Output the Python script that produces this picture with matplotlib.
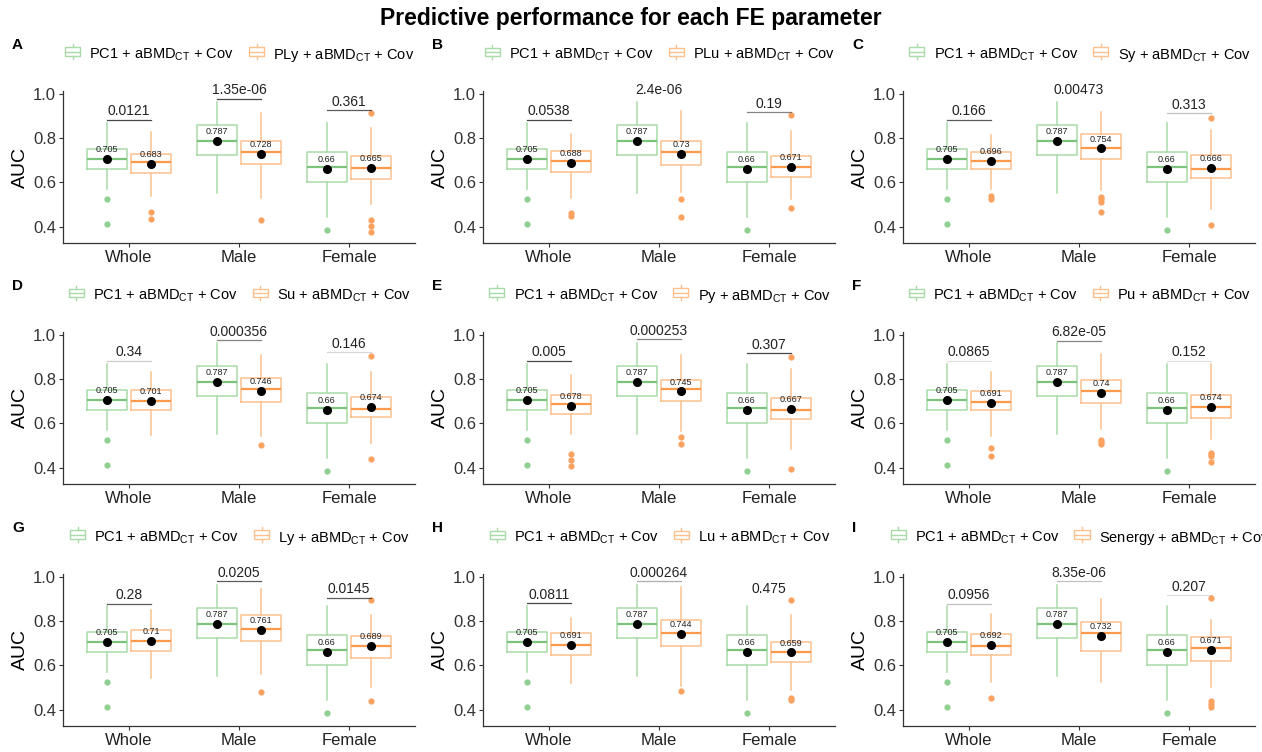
import matplotlib
matplotlib.use("Agg")
import matplotlib.pyplot as plt
from matplotlib.patches import Rectangle
from matplotlib.lines import Line2D
from matplotlib.legend_handler import HandlerBase

plt.rcParams['font.family'] = ['Liberation Sans', 'DejaVu Sans']
plt.rcParams['mathtext.default'] = 'regular'

# ---------------- data ----------------
groups = ["Whole", "Male", "Female"]
letters = ["A", "B", "C", "D", "E", "F", "G", "H", "I"]
models = ["PLy", "PLu", "Sy", "Su", "Py", "Pu", "Ly", "Lu", "Senergy"]

# PC1 + aBMD_CT + Cov is the same in every panel
green_q1 = [0.663, 0.723, 0.600]
green_med = [0.704, 0.786, 0.668]
green_q3 = [0.753, 0.858, 0.737]
green_lo = [0.572, 0.551, 0.442]
green_hi = [0.867, 0.965, 0.867]
green_fliers = [[0.525, 0.413], [], [0.385]]
green_mean = [0.705, 0.787, 0.66]

orange_q1 = [
    [0.641, 0.682, 0.617], [0.647, 0.680, 0.627], [0.659, 0.707, 0.621],
    [0.659, 0.695, 0.628], [0.644, 0.700, 0.621], [0.659, 0.691, 0.627],
    [0.666, 0.713, 0.635], [0.647, 0.686, 0.617], [0.647, 0.666, 0.620],
]
orange_med = [
    [0.694, 0.738, 0.667], [0.695, 0.738, 0.668], [0.698, 0.757, 0.661],
    [0.700, 0.758, 0.666], [0.690, 0.758, 0.662], [0.699, 0.745, 0.675],
    [0.709, 0.767, 0.687], [0.691, 0.749, 0.659], [0.687, 0.745, 0.677],
]
orange_q3 = [
    [0.727, 0.787, 0.721], [0.744, 0.787, 0.721], [0.738, 0.818, 0.723],
    [0.752, 0.806, 0.718], [0.729, 0.798, 0.714], [0.747, 0.798, 0.727],
    [0.761, 0.827, 0.734], [0.745, 0.808, 0.707], [0.741, 0.797, 0.727],
]
orange_lo = [
    [0.538, 0.531, 0.502], [0.531, 0.555, 0.525], [0.570, 0.566, 0.478],
    [0.546, 0.543, 0.513], [0.554, 0.565, 0.486], [0.545, 0.573, 0.528],
    [0.542, 0.563, 0.504], [0.519, 0.509, 0.489], [0.527, 0.527, 0.504],
]
orange_hi = [
    [0.829, 0.915, 0.848], [0.818, 0.925, 0.834], [0.814, 0.917, 0.837],
    [0.833, 0.911, 0.833], [0.818, 0.911, 0.846], [0.833, 0.915, 0.869],
    [0.853, 0.947, 0.827], [0.815, 0.955, 0.827], [0.835, 0.900, 0.805],
]
orange_fliers = [
    [[0.465, 0.434], [0.431], [0.913, 0.430, 0.403, 0.375]],
    [[0.460, 0.448], [0.524, 0.445], [0.904, 0.484]],
    [[0.538, 0.527], [0.532, 0.523, 0.511, 0.465], [0.893, 0.407]],
    [[], [0.501], [0.906, 0.441]],
    [[0.460, 0.433, 0.406], [0.537, 0.507], [0.900, 0.393]],
    [[0.487, 0.455], [0.526, 0.518, 0.508], [0.468, 0.460, 0.453, 0.427]],
    [[], [0.479], [0.895, 0.438]],
    [[], [0.485], [0.898, 0.452, 0.445]],
    [[0.455], [], [0.904, 0.440, 0.426, 0.411]],
]
orange_mean = [
    [0.683, 0.728, 0.665], [0.688, 0.73, 0.671], [0.696, 0.754, 0.666],
    [0.701, 0.746, 0.674], [0.678, 0.745, 0.667], [0.691, 0.74, 0.674],
    [0.71, 0.761, 0.689], [0.691, 0.744, 0.659], [0.692, 0.732, 0.671],
]
pvals = [
    ["0.0121", "1.35e-06", "0.361"], ["0.0538", "2.4e-06", "0.19"],
    ["0.166", "0.00473", "0.313"], ["0.34", "0.000356", "0.146"],
    ["0.005", "0.000253", "0.307"], ["0.0865", "6.82e-05", "0.152"],
    ["0.28", "0.0205", "0.0145"], ["0.0811", "0.000264", "0.475"],
    ["0.0956", "8.35e-06", "0.207"],
]
p_y = [
    [0.885, 0.980, 0.928], [0.885, 0.980, 0.919], [0.885, 0.980, 0.913],
    [0.885, 0.978, 0.923], [0.885, 0.983, 0.918], [0.885, 0.975, 0.885],
    [0.880, 0.982, 0.907], [0.882, 0.982, 0.909], [0.880, 0.982, 0.917],
]
# how visible the bracket line is in the reference
p_alpha = [
    [0.9, 0.9, 0.8], [0.9, 0.0, 0.6], [0.8, 0.0, 0.3],
    [0.25, 0.6, 0.2], [0.9, 0.6, 0.9], [0.15, 0.6, 0.15],
    [0.8, 0.8, 0.8], [0.9, 0.4, 0.0], [0.3, 0.3, 0.15],
]

# ---------------- colours ----------------
G_BOX, G_MED, G_PT = '#a9dba9', '#7cc47c', '#8fcf8f'
O_BOX, O_MED, O_PT = '#fdc18f', '#fb9a4b', '#fca261'


class BoxKey(HandlerBase):
    # small ggplot-like boxplot glyph for the legend
    def create_artists(self, legend, orig, xd, yd, w, h, fs, trans):
        c = orig.get_edgecolor()
        x0, x1 = xd + 0.1 * w, xd + 0.9 * w
        r = Rectangle((x0, yd + 0.15 * h), x1 - x0, 0.7 * h, fill=False,
                      ec=c, lw=1, transform=trans)
        m = Line2D([x0, x1], [yd + 0.5 * h] * 2, color=c, lw=1, transform=trans)
        t = Line2D([xd + w / 2] * 2, [yd + 0.85 * h, yd + 1.1 * h], color=c, lw=1, transform=trans)
        b = Line2D([xd + w / 2] * 2, [yd - 0.1 * h, yd + 0.15 * h], color=c, lw=1, transform=trans)
        return [r, m, t, b]


def stats(q1, med, q3, lo, hi, fl):
    return dict(q1=q1, med=med, q3=q3, whislo=lo, whishi=hi, fliers=fl)


W, H = 1262, 752
fig = plt.figure(figsize=(W / 100, H / 100), dpi=100)
fig.text(0.5, 1 - 19 / H, "Predictive performance for each FE parameter",
         ha='center', va='center', fontsize=16.5, fontweight='bold')

col_left = [63, 483, 903]
row_top = [91, 332, 574]
ax_w, ax_h = 352, 152
xs = [0, 1, 2]

for k in range(9):
    r, c = divmod(k, 3)
    ax = fig.add_axes([col_left[c] / W, 1 - (row_top[r] + ax_h) / H, ax_w / W, ax_h / H])

    gst = [stats(green_q1[i], green_med[i], green_q3[i], green_lo[i], green_hi[i], green_fliers[i])
           for i in range(3)]
    ost = [stats(orange_q1[k][i], orange_med[k][i], orange_q3[k][i], orange_lo[k][i],
                 orange_hi[k][i], orange_fliers[k][i]) for i in range(3)]

    for st, off, cb, cm, cp in [(gst, -0.2, G_BOX, G_MED, G_PT), (ost, 0.2, O_BOX, O_MED, O_PT)]:
        ax.bxp(st, positions=[x + off for x in xs], widths=0.36, showcaps=False,
               boxprops=dict(color=cb, lw=1.1),
               whiskerprops=dict(color=cb, lw=1.1),
               medianprops=dict(color=cm, lw=1.6),
               flierprops=dict(marker='o', markerfacecolor=cp, markeredgecolor='none', markersize=4.5),
               manage_ticks=False)

    for i in range(3):
        for off, m in [(-0.2, green_mean[i]), (0.2, orange_mean[k][i])]:
            ax.plot(xs[i] + off, m, 'o', color='black', markersize=5.5, zorder=5)
            ax.text(xs[i] + off, m + 0.022, f"{m:.3g}", ha='center', va='bottom',
                    fontsize=6.5, color='#222222', zorder=6)
        if p_alpha[k][i] > 0:
            ax.plot([xs[i] - 0.2, xs[i] + 0.2], [p_y[k][i]] * 2, color='#333333',
                    lw=0.9, alpha=p_alpha[k][i])
        ax.text(xs[i], p_y[k][i] + 0.006, pvals[k][i], ha='center', va='bottom',
                fontsize=10, color='#222222')

    ax.set_xlim(-0.6, 2.6)
    ax.set_ylim(0.326, 1.014)
    ax.set_xticks(xs)
    ax.set_xticklabels(groups, fontsize=12, color='#222222')
    ax.set_yticks([0.4, 0.6, 0.8, 1.0])
    ax.set_yticklabels(["0.4", "0.6", "0.8", "1.0"], fontsize=12, color='#333333')
    ax.tick_params(length=3, width=0.8, colors='#333333', pad=2)
    ax.tick_params(axis='x', labelcolor='#222222')
    ax.set_ylabel("AUC", fontsize=14, labelpad=3)
    for s in ['top', 'right']:
        ax.spines[s].set_visible(False)
    for s in ['left', 'bottom']:
        ax.spines[s].set_color('#333333')
        ax.spines[s].set_linewidth(0.9)

    handles = [Rectangle((0, 0), 1, 1, fill=False, ec=G_BOX),
               Rectangle((0, 0), 1, 1, fill=False, ec=O_BOX)]
    labels = [r"PC1 + aBMD$_{CT}$ + Cov", models[k] + r" + aBMD$_{CT}$ + Cov"]
    ax.legend(handles, labels, loc='center', bbox_to_anchor=(0.5, 1.235), ncol=2,
              frameon=False, fontsize=10.5, handler_map={Rectangle: BoxKey()},
              handlelength=1.3, handleheight=0.9, handletextpad=0.5, columnspacing=0.9,
              borderaxespad=0, borderpad=0)

    fig.text((12 + 420 * c) / W, 1 - (row_top[r] - 46) / H, letters[k],
             fontsize=11, fontweight='bold', va='center', ha='left')

fig.savefig("out.png", dpi=100)
